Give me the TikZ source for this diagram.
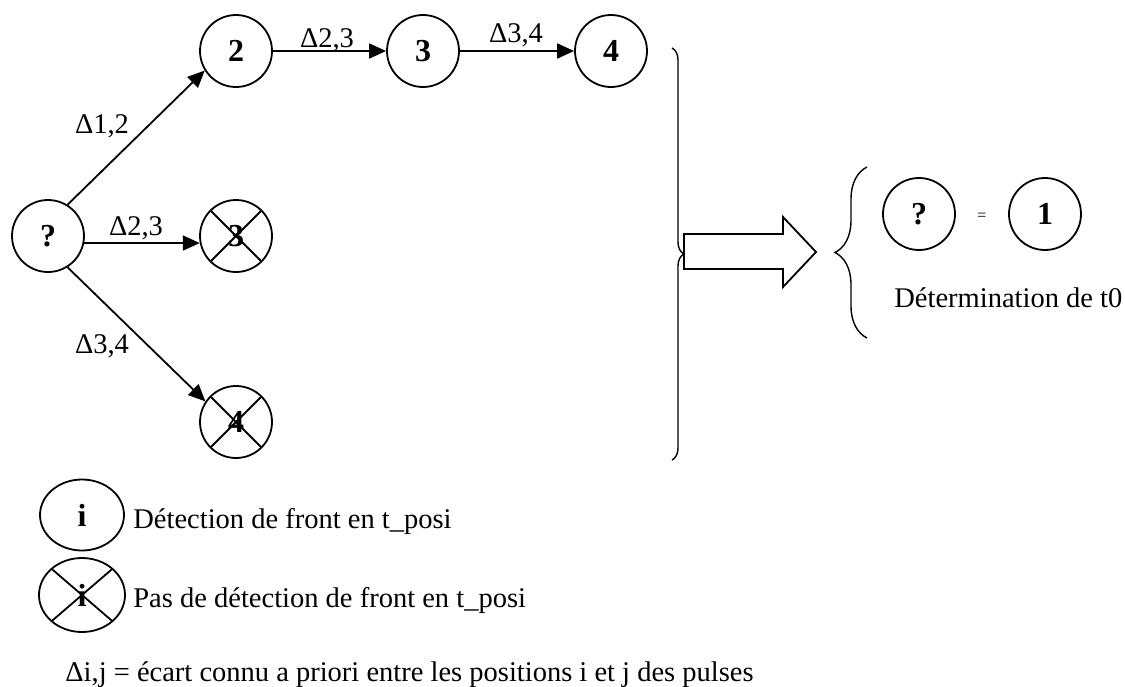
\documentclass[tikz,border=0pt]{standalone}
\usepackage{fontspec}
\setmainfont{Liberation Serif}
\usetikzlibrary{arrows.meta,shapes.geometric,decorations.pathreplacing}

\tikzset{
  pulse/.style={circle,draw,line width=0.9pt,minimum size=36pt,inner sep=0pt,
    font=\fontsize{16}{16}\selectfont\bfseries},
  legpulse/.style={pulse,ellipse,minimum width=42pt,minimum height=35.5pt},
  crossed/.style={path picture={
    \draw[line width=0.9pt] (path picture bounding box.north west) -- (path picture bounding box.south east)
      (path picture bounding box.north east) -- (path picture bounding box.south west);}},
  ecart/.style={-{Triangle[length=8.5pt,width=7.5pt]},line width=0.9pt},
  lbl/.style={anchor=base,inner sep=0pt,font=\fontsize{14.25}{17}\selectfont},
  txt/.style={anchor=base west,inner sep=0pt,font=\fontsize{14.25}{17}\selectfont},
  bracket/.style={line width=0.7pt,decorate}
}

\begin{document}
\begin{tikzpicture}[x=0.5pt,y=-0.5pt]
  \useasboundingbox (0,0) rectangle (1125,686);

  % pulses
  \node[pulse] (q) at (48,236) {?};
  \node[pulse] (p2) at (236,51) {2};
  \node[pulse] (p3) at (423,51) {3};
  \node[pulse] (p4) at (611,51) {4};
  \node[pulse,crossed] (x3) at (236,236) {3};
  \node[pulse,crossed] (x4) at (236,422) {4};

  % known gaps
  \draw[ecart] (q.58) -- (p2.212);
  \draw[ecart] (q.-11) -- (x3.191);
  \draw[ecart] (q.-58) -- (x4.146);
  \draw[ecart] (p2) -- (p3);
  \draw[ecart] (p3) -- (p4);
  \node[lbl] (d12) at (102,133) {Δ1,2};
  \node[lbl] (d23b) at (136,235) {Δ2,3};
  \node[lbl] (d34b) at (102,353) {Δ3,4};
  \node[lbl] (d23) at (327,47) {Δ2,3};
  \node[lbl] (d34) at (516,42) {Δ3,4};

  % conclusion
  \draw[bracket,decoration={brace,amplitude=6pt}] (672,48) -- (672,460);
  \draw[line width=0.9pt] (684,234) -- (783,234) -- (783,217) -- (816,252)
    -- (783,287) -- (783,269) -- (684,269) -- cycle;
  \draw[bracket,decoration={brace,amplitude=16pt}] (867,338) -- (867,167);
  \node[pulse] (rq) at (919,214) {?};
  \node[pulse] (r1) at (1045,214) {1};
  \node[font=\fontsize{8}{8}\selectfont] (eq) at (982,217) {=};
  \node[txt] (t0) at (894,307) {Détermination de t0};

  % legend
  \node[legpulse] (li) at (82,515) {i};
  \node[legpulse,crossed,minimum width=43pt,minimum height=37pt] (lx) at (82,595) {i};
  \node[txt] (lit) at (133,528) {Détection de front en t\_posi};
  \node[txt] (lxt) at (133,607) {Pas de détection de front en t\_posi};
  \node[txt] (dij) at (65,681) {Δi,j = écart connu a priori entre les positions i et j des pulses};
\end{tikzpicture}
\end{document}
